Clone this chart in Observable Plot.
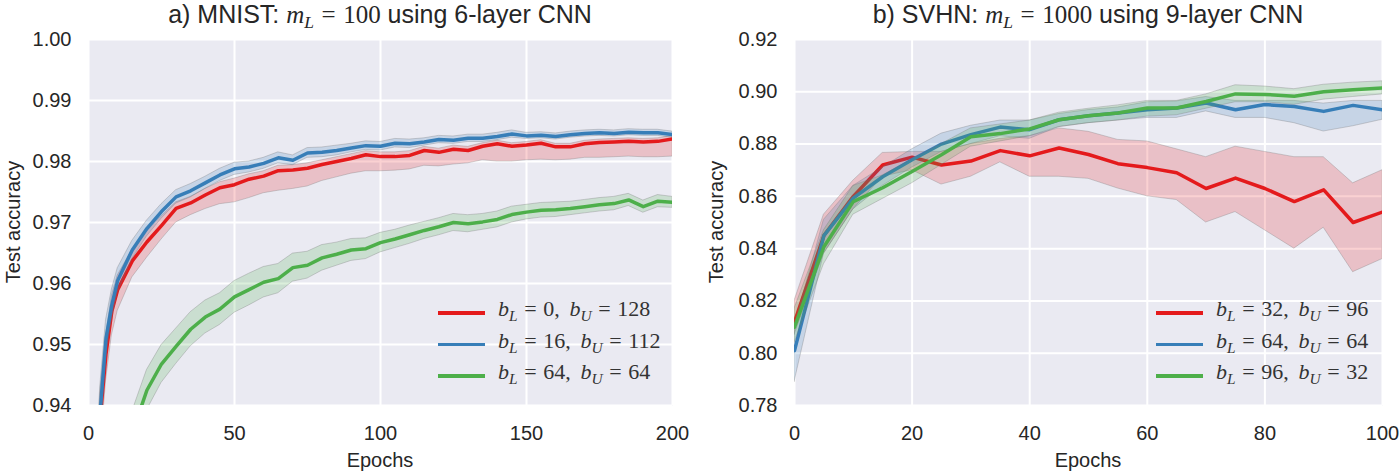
<!DOCTYPE html>
<html>
<head>
<meta charset="utf-8">
<script src="https://cdn.jsdelivr.net/npm/d3@7"></script>
<script src="https://cdn.jsdelivr.net/npm/@observablehq/plot@0.6"></script>
<style>
  html, body { margin: 0; padding: 0; background: #fff; }
  #wrap { position: relative; width: 1399px; height: 473px; overflow: hidden;
          font-family: "Liberation Sans", Arial, sans-serif; color: #262626; }
  .panel { position: absolute; top: 0; }
  .title { position: absolute; top: 0px; font-size: 25px; white-space: nowrap; transform: translateX(-50%); }
  .xlabel { position: absolute; top: 449px; font-size: 20px; transform: translateX(-50%); }
  .ylabel { position: absolute; top: 222px; font-size: 20px; white-space: nowrap;
            transform: translate(-50%, -50%) rotate(-90deg); }
  .math { font-family: "Liberation Serif", "DejaVu Serif", serif; }
  .math sub { font-size: 70%; vertical-align: -0.3em; line-height: 0; }
  .math .eq { margin: 0 0.3em; }
  .math .sep { margin-right: 0.45em; }
  .legend { position: absolute; }
  .entry { position: relative; height: 31.5px; }
  .swatch { position: absolute; left: 0; top: 13px; width: 47px; height: 3.5px; }
  .ltext { position: absolute; left: 60px; top: -2px; font-size: 22px; color: #333; white-space: nowrap; }
</style>
</head>
<body>
<div id="wrap">
  <div id="left" class="panel" style="left:0"></div>
  <div id="right" class="panel" style="left:700px"></div>
</div>
<script>
// ---- MNIST, m_L = 100, 6-layer CNN ----
const mnistEpochs = [2, 4, 6, 8, 10, 15, 20, 25, 30, 35, 40, 45, 50, 55, 60, 65, 70, 75, 80, 85, 90, 95, 100,
  105, 110, 115, 120, 125, 130, 135, 140, 145, 150, 155, 160, 165, 170, 175, 180, 185, 190, 195, 200];

const mnistRedMean = [0.912, 0.938, 0.9485, 0.9555, 0.959, 0.9637, 0.9668, 0.9695, 0.9723, 0.9732, 0.9745, 0.9757,
  0.9762, 0.9771, 0.9776, 0.9785, 0.9786, 0.9789, 0.9795, 0.9800, 0.9805, 0.9811, 0.9808, 0.9808, 0.9810, 0.9818,
  0.9815, 0.9820, 0.9818, 0.9825, 0.9829, 0.9825, 0.9827, 0.9830, 0.9824, 0.9824, 0.9829, 0.9831, 0.9832, 0.9833,
  0.9832, 0.9833, 0.9837];
const mnistRedLo = [0.903, 0.932, 0.944, 0.9515, 0.9555, 0.9610, 0.9642, 0.9672, 0.9700, 0.9712, 0.9722, 0.9730,
  0.9733, 0.9740, 0.9748, 0.9752, 0.9755, 0.9759, 0.9768, 0.9774, 0.9780, 0.9784, 0.9784, 0.9785, 0.9787, 0.9793,
  0.9792, 0.9795, 0.9797, 0.9802, 0.9800, 0.9800, 0.9802, 0.9803, 0.9802, 0.9803, 0.9806, 0.9806, 0.9807, 0.9808,
  0.9807, 0.9807, 0.9808];
const mnistRedHi = [0.919, 0.942, 0.9515, 0.958, 0.9613, 0.9655, 0.9685, 0.9710, 0.9733, 0.9742, 0.9755, 0.9766,
  0.9772, 0.9779, 0.9784, 0.9793, 0.9794, 0.9797, 0.9802, 0.9807, 0.9812, 0.9817, 0.9815, 0.9815, 0.9817, 0.9824,
  0.9821, 0.9826, 0.9824, 0.9830, 0.9834, 0.9830, 0.9832, 0.9835, 0.9829, 0.9829, 0.9834, 0.9836, 0.9837, 0.9838,
  0.9837, 0.9838, 0.9842];

const mnistBlueMean = [0.915, 0.939, 0.951, 0.9565, 0.9605, 0.9655, 0.969, 0.9718, 0.9742, 0.9752, 0.9765, 0.9778,
  0.9788, 0.9791, 0.9797, 0.9806, 0.9802, 0.9814, 0.9815, 0.9818, 0.9822, 0.9826, 0.9825, 0.9830, 0.9829, 0.9832,
  0.9836, 0.9835, 0.9838, 0.9838, 0.9841, 0.9845, 0.9842, 0.9843, 0.9841, 0.9844, 0.9846, 0.9847, 0.9846, 0.9848,
  0.9847, 0.9847, 0.9844];
const mnistBlueLo = [0.908, 0.935, 0.948, 0.954, 0.9585, 0.9640, 0.9677, 0.9706, 0.9731, 0.9741, 0.9755, 0.9768,
  0.9778, 0.9782, 0.9788, 0.9797, 0.9794, 0.9806, 0.9807, 0.9810, 0.9815, 0.9819, 0.9818, 0.9823, 0.9822, 0.9826,
  0.9830, 0.9829, 0.9832, 0.9832, 0.9835, 0.9839, 0.9837, 0.9838, 0.9836, 0.9839, 0.9841, 0.9842, 0.9841, 0.9843,
  0.9842, 0.9842, 0.9839];
const mnistBlueHi = [0.922, 0.943, 0.954, 0.959, 0.9625, 0.9670, 0.9703, 0.9730, 0.9753, 0.9763, 0.9775, 0.9788,
  0.9798, 0.9800, 0.9806, 0.9815, 0.9810, 0.9822, 0.9823, 0.9826, 0.9829, 0.9833, 0.9832, 0.9837, 0.9836, 0.9838,
  0.9842, 0.9841, 0.9844, 0.9844, 0.9847, 0.9851, 0.9847, 0.9848, 0.9846, 0.9849, 0.9851, 0.9852, 0.9851, 0.9853,
  0.9852, 0.9852, 0.9849];

const mnistGreenMean = [0.880, 0.895, 0.905, 0.914, 0.922, 0.9355, 0.9425, 0.9468, 0.9497, 0.9525, 0.9545, 0.9558,
  0.9578, 0.9590, 0.9602, 0.9608, 0.9626, 0.9630, 0.9642, 0.9648, 0.9655, 0.9657, 0.9667, 0.9673, 0.9680, 0.9687,
  0.9693, 0.9700, 0.9698, 0.9701, 0.9705, 0.9713, 0.9717, 0.9720, 0.9721, 0.9723, 0.9726, 0.9729, 0.9731, 0.9737,
  0.9726, 0.9735, 0.9733];
const mnistGreenLo = [0.874, 0.889, 0.899, 0.908, 0.9165, 0.9320, 0.9392, 0.9437, 0.9468, 0.9497, 0.9518, 0.9532,
  0.9552, 0.9564, 0.9577, 0.9584, 0.9603, 0.9608, 0.9621, 0.9629, 0.9637, 0.9640, 0.9651, 0.9658, 0.9665, 0.9673,
  0.9679, 0.9686, 0.9684, 0.9688, 0.9692, 0.9700, 0.9705, 0.9708, 0.9709, 0.9712, 0.9715, 0.9718, 0.9720, 0.9727,
  0.9716, 0.9725, 0.9724];
const mnistGreenHi = [0.886, 0.901, 0.911, 0.920, 0.9275, 0.9390, 0.9458, 0.9499, 0.9526, 0.9553, 0.9572, 0.9584,
  0.9604, 0.9616, 0.9627, 0.9632, 0.9649, 0.9652, 0.9663, 0.9667, 0.9673, 0.9674, 0.9683, 0.9688, 0.9695, 0.9701,
  0.9707, 0.9714, 0.9712, 0.9714, 0.9718, 0.9726, 0.9729, 0.9732, 0.9733, 0.9734, 0.9737, 0.9740, 0.9742, 0.9747,
  0.9736, 0.9745, 0.9742];

const mnistXTicks = [0, 50, 100, 150, 200];
const mnistYTicks = [0.94, 0.95, 0.96, 0.97, 0.98, 0.99, 1.00];

// ---- SVHN, m_L = 1000, 9-layer CNN ----
const svhnEpochs = [0, 5, 10, 15, 20, 25, 30, 35, 40, 45, 50, 55, 60, 65, 70, 75, 80, 85, 90, 95, 100];

const svhnRedMean = [0.812, 0.845, 0.860, 0.872, 0.875, 0.872, 0.8735, 0.8775, 0.8755, 0.8785, 0.876, 0.8725,
  0.871, 0.869, 0.863, 0.867, 0.863, 0.858, 0.8625, 0.850, 0.854];
const svhnRedLo = [0.807, 0.838, 0.855, 0.8675, 0.870, 0.8645, 0.8675, 0.873, 0.8675, 0.8675, 0.8667, 0.863,
  0.860, 0.8586, 0.850, 0.854, 0.847, 0.840, 0.848, 0.831, 0.836];
const svhnRedHi = [0.820, 0.853, 0.866, 0.8766, 0.877, 0.877, 0.880, 0.882, 0.883, 0.886, 0.8847, 0.8816,
  0.881, 0.878, 0.875, 0.879, 0.877, 0.875, 0.875, 0.865, 0.870];

const svhnBlueMean = [0.801, 0.845, 0.8593, 0.8675, 0.874, 0.880, 0.8836, 0.8865, 0.8855, 0.8893, 0.8908, 0.8919,
  0.8931, 0.8938, 0.8957, 0.8931, 0.8951, 0.8944, 0.8925, 0.8948, 0.8931];
const svhnBlueLo = [0.789, 0.838, 0.855, 0.864, 0.871, 0.877, 0.880, 0.883, 0.882, 0.8865, 0.888, 0.889,
  0.890, 0.890, 0.8925, 0.890, 0.890, 0.888, 0.8848, 0.8868, 0.8893];
const svhnBlueHi = [0.810, 0.851, 0.864, 0.871, 0.878, 0.884, 0.887, 0.889, 0.889, 0.8915, 0.893, 0.894,
  0.896, 0.8963, 0.898, 0.8965, 0.8965, 0.8965, 0.8955, 0.8965, 0.8965];

const svhnGreenMean = [0.810, 0.8407, 0.858, 0.8633, 0.8695, 0.8759, 0.8828, 0.884, 0.8858, 0.8893, 0.8908, 0.8919,
  0.8938, 0.8938, 0.8963, 0.8992, 0.899, 0.8983, 0.900, 0.9008, 0.9015];
const svhnGreenLo = [0.804, 0.834, 0.853, 0.859, 0.865, 0.872, 0.879, 0.881, 0.883, 0.8865, 0.888, 0.889,
  0.8905, 0.891, 0.8935, 0.896, 0.896, 0.895, 0.897, 0.898, 0.899];
const svhnGreenHi = [0.817, 0.847, 0.864, 0.868, 0.874, 0.880, 0.886, 0.8875, 0.889, 0.892, 0.8935, 0.8948,
  0.8965, 0.8965, 0.899, 0.9025, 0.902, 0.901, 0.9027, 0.9035, 0.904];

const svhnXTicks = [0, 20, 40, 60, 80, 100];
const svhnYTicks = [0.78, 0.80, 0.82, 0.84, 0.86, 0.88, 0.90, 0.92];

// series colours (ColorBrewer Set1)
const colors = ["#e41a1c", "#377eb8", "#4daf4a"];

const mnistLabels = [["0", "128"], ["16", "112"], ["64", "64"]];
const svhnLabels = [["32", "96"], ["64", "64"], ["96", "32"]];

function rows(epochs, mean, lo, hi) {
  return epochs.map((e, i) => ({epoch: e, mean: mean[i], lo: lo[i], hi: hi[i]}));
}

function panel({series, xDomain, xTicks, yDomain, yTicks, width, marginLeft, marginRight}) {
  const marks = [
    Plot.frame({fill: "#eaeaf2", stroke: "none"}),
    Plot.ruleX(xTicks, {stroke: "white", strokeWidth: 2}),
    Plot.ruleY(yTicks, {stroke: "white", strokeWidth: 2})
  ];
  series.forEach((data, i) => {
    marks.push(Plot.areaY(data, {x: "epoch", y1: "lo", y2: "hi", fill: colors[i], fillOpacity: 0.2,
      stroke: "#6f6f6f", strokeOpacity: 0.3, strokeWidth: 1, clip: true}));
    marks.push(Plot.lineY(data, {x: "epoch", y: "mean", stroke: colors[i], strokeWidth: 3.5, clip: true}));
  });
  return Plot.plot({
    width, height: 473,
    marginLeft, marginRight, marginTop: 39, marginBottom: 68,
    style: {fontFamily: '"Liberation Sans", Arial, sans-serif', fontSize: "20px", color: "#262626",
      background: "transparent", overflow: "visible"},
    x: {domain: xDomain, ticks: xTicks, tickSize: 0, tickPadding: 20, label: null},
    y: {domain: yDomain, ticks: yTicks, tickFormat: ".2f", tickSize: 0, tickPadding: 17, label: null},
    marks
  });
}

const leftSeries = [
  rows(mnistEpochs, mnistRedMean, mnistRedLo, mnistRedHi),
  rows(mnistEpochs, mnistBlueMean, mnistBlueLo, mnistBlueHi),
  rows(mnistEpochs, mnistGreenMean, mnistGreenLo, mnistGreenHi)
];
const rightSeries = [
  rows(svhnEpochs, svhnRedMean, svhnRedLo, svhnRedHi),
  rows(svhnEpochs, svhnBlueMean, svhnBlueLo, svhnBlueHi),
  rows(svhnEpochs, svhnGreenMean, svhnGreenLo, svhnGreenHi)
];

document.getElementById("left").append(panel({
  series: leftSeries, xDomain: [0, 200], xTicks: mnistXTicks, yDomain: [0.94, 1.0], yTicks: mnistYTicks,
  width: 700, marginLeft: 88, marginRight: 28
}));
document.getElementById("right").append(panel({
  series: rightSeries, xDomain: [0, 100], xTicks: svhnXTicks, yDomain: [0.78, 0.92], yTicks: svhnYTicks,
  width: 699, marginLeft: 94, marginRight: 17
}));

// titles, axis labels and legends
const wrap = d3.select("#wrap");
const eq = '<span class="eq">=</span>';
function addText(cls, x, html) {
  wrap.append("div").attr("class", cls).style("left", x + "px").html(html);
}
addText("title", 380, `a) MNIST: <span class="math"><i>m</i><sub><i>L</i></sub>${eq}100</span> using 6-layer CNN`);
addText("title", 1088, `b) SVHN: <span class="math"><i>m</i><sub><i>L</i></sub>${eq}1000</span> using 9-layer CNN`);
addText("xlabel", 380, "Epochs");
addText("xlabel", 1088, "Epochs");
addText("ylabel", 13, "Test accuracy");
addText("ylabel", 716, "Test accuracy");

function legend(x, y, labels) {
  const box = wrap.append("div").attr("class", "legend").style("left", x + "px").style("top", y + "px");
  labels.forEach(([bl, bu], i) => {
    const entry = box.append("div").attr("class", "entry");
    entry.append("div").attr("class", "swatch").style("background", colors[i]);
    entry.append("div").attr("class", "ltext math")
      .html(`<i>b</i><sub><i>L</i></sub>${eq}${bl}<span class="sep">,</span><i>b</i><sub><i>U</i></sub>${eq}${bu}`);
  });
}
legend(438, 298, mnistLabels);
legend(1156, 298, svhnLabels);
</script>
</body>
</html>
